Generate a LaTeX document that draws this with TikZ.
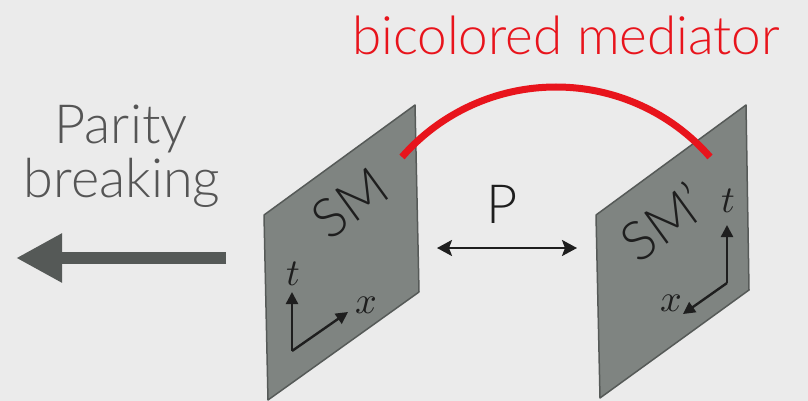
\documentclass[tikz,border=0pt]{standalone}
\usepackage{fontspec}
\setmainfont{Lato}[UprightFont=* Light]
\usetikzlibrary{arrows.meta}
\definecolor{bg}{HTML}{EBEBEB}
\definecolor{panel}{HTML}{7F8481}
\definecolor{panelborder}{HTML}{565A58}
\definecolor{medred}{HTML}{E8141C}
\definecolor{txtgray}{HTML}{555555}
\definecolor{bigarrow}{HTML}{555957}
\definecolor{axisblack}{HTML}{1E1E1E}
\tikzset{
  panelbox/.style={fill=panel, draw=panelborder, line width=1.5pt, line join=round},
  axisline/.style={draw=axisblack, line width=2.4pt, -{Triangle[length=12pt,width=12pt]}},
  axislabel/.style={inner sep=0pt, text=axisblack},
  smlabel/.style={inner sep=0pt, text=axisblack, font=\fontsize{54}{54}\selectfont, rotate=36},
  bigtext/.style={inner sep=0pt, anchor=base, text=txtgray, font=\fontsize{54}{54}\selectfont},
}
\begin{document}
\begin{tikzpicture}[x=1pt,y=-1pt]
\fill[bg] (0,0) rectangle (808,401);
\useasboundingbox (0,0) rectangle (808,401);

% panels
\coordinate (L1) at (264,215); \coordinate (L2) at (415,105);
\coordinate (L3) at (419,292); \coordinate (L4) at (268,400);
\coordinate (R1) at (596,215); \coordinate (R2) at (746,105);
\coordinate (R3) at (749,290); \coordinate (R4) at (600,398);
\path[panelbox] (L1) -- (L2) -- (L3) -- (L4) -- cycle;
\path[panelbox] (R1) -- (R2) -- (R3) -- (R4) -- cycle;

% SM labels
\node[smlabel] (sm) at (350,203) {SM};
\node[smlabel] (smp) at (663,222) {SM'};

% left axes
\coordinate (oL) at (292,351);
\coordinate (tL) at (292,292);
\coordinate (xL) at (348,312);
\draw[axisline] (oL) -- (tL);
\draw[axisline] (oL) -- (xL);
\node[axislabel] (tLl) at (293,274) {\scalebox{3.8}{$t$}};
\node[axislabel] (xLl) at (366,305) {\scalebox{3.8}{$x$}};

% right axes
\coordinate (oR) at (727,283);
\coordinate (tR) at (727,225);
\coordinate (xR) at (683,314);
\draw[axisline] (oR) -- (tR);
\draw[axisline] (oR) -- (xR);
\node[axislabel] (tRl) at (728,201) {\scalebox{3.8}{$t$}};
\node[axislabel] (xRl) at (671,303) {\scalebox{3.8}{$x$}};

% mediator arc
\coordinate (medL) at (402,157);
\coordinate (medT) at (556,87);
\coordinate (medR) at (710,157);
\draw[medred, line width=7pt] (medL) .. controls (440.8,112.5) and (497,87) .. (medT)
  .. controls (615,87) and (671.2,112.5) .. (medR);
\node[bigtext, text=medred, font=\fontsize{53}{53}\selectfont] (medtext) at (566,55) {bicolored mediator};

% P arrow
\coordinate (pa) at (437,248);
\coordinate (pb) at (577,248);
\draw[line width=2.4pt, axisblack, {Stealth[length=15pt,width=16pt,inset=3pt]}-{Stealth[length=15pt,width=16pt,inset=3pt]}] (pa) -- (pb);
\node[bigtext, text=axisblack] (P) at (502,223) {P};

% parity breaking
\node[bigtext] (par) at (121,143) {Parity};
\node[bigtext] (brk) at (122,197) {breaking};
\coordinate (ga) at (226,258);
\coordinate (gb) at (16,258);
\draw[bigarrow, line width=12pt, -{Triangle[length=46pt,width=46pt]}] (ga) -- (gb);
\end{tikzpicture}
\end{document}
